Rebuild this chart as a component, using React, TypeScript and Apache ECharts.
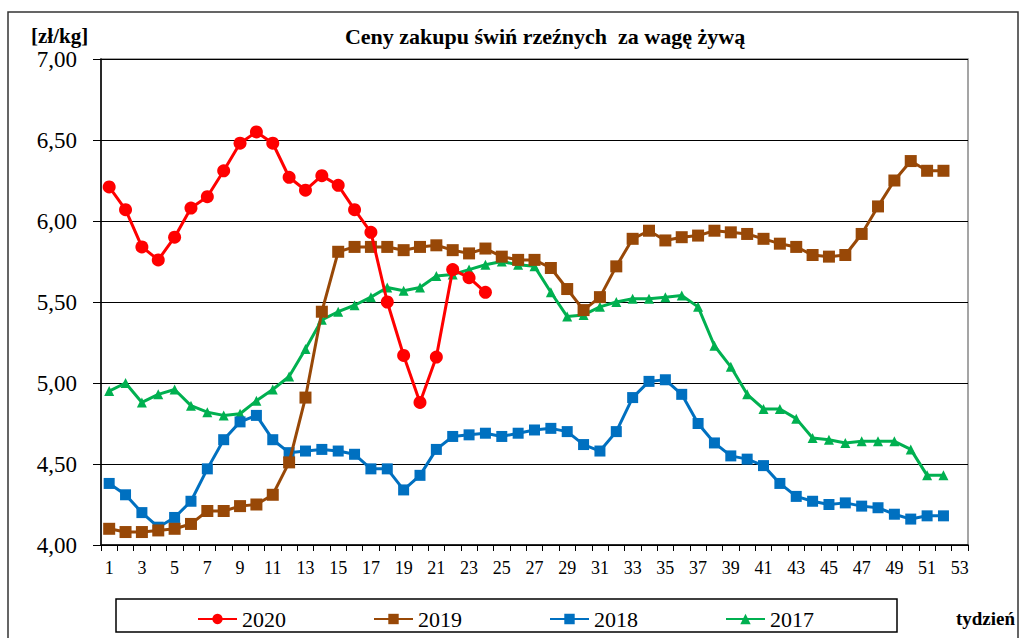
import React, { useEffect, useRef } from "react";
import * as echarts from "echarts";

const weeks: string[] = Array.from({ length: 53 }, (_, i) => String(i + 1));

const y2020: number[] = [6.21, 6.07, 5.84, 5.76, 5.9, 6.08, 6.15, 6.31, 6.48, 6.55, 6.48, 6.27, 6.19, 6.28, 6.22, 6.07, 5.93, 5.5, 5.17, 4.88, 5.16, 5.7, 5.65, 5.56];
const y2019: number[] = [4.1, 4.08, 4.08, 4.09, 4.1, 4.13, 4.21, 4.21, 4.24, 4.25, 4.31, 4.51, 4.91, 5.44, 5.81, 5.84, 5.84, 5.84, 5.82, 5.84, 5.85, 5.82, 5.8, 5.83, 5.78, 5.76, 5.76, 5.71, 5.58, 5.45, 5.53, 5.72, 5.89, 5.94, 5.88, 5.9, 5.91, 5.94, 5.93, 5.92, 5.89, 5.86, 5.84, 5.79, 5.78, 5.79, 5.92, 6.09, 6.25, 6.37, 6.31, 6.31];
const y2018: number[] = [4.38, 4.31, 4.2, 4.11, 4.17, 4.27, 4.47, 4.65, 4.76, 4.8, 4.65, 4.57, 4.58, 4.59, 4.58, 4.56, 4.47, 4.47, 4.34, 4.43, 4.59, 4.67, 4.68, 4.69, 4.67, 4.69, 4.71, 4.72, 4.7, 4.62, 4.58, 4.7, 4.91, 5.01, 5.02, 4.93, 4.75, 4.63, 4.55, 4.53, 4.49, 4.38, 4.3, 4.27, 4.25, 4.26, 4.24, 4.23, 4.19, 4.16, 4.18, 4.18];
const y2017: number[] = [4.95, 5.0, 4.88, 4.93, 4.96, 4.86, 4.82, 4.8, 4.81, 4.89, 4.96, 5.04, 5.21, 5.39, 5.44, 5.48, 5.53, 5.59, 5.57, 5.59, 5.66, 5.67, 5.7, 5.73, 5.75, 5.73, 5.72, 5.56, 5.41, 5.42, 5.47, 5.5, 5.52, 5.52, 5.53, 5.54, 5.47, 5.23, 5.1, 4.93, 4.84, 4.84, 4.78, 4.66, 4.65, 4.63, 4.64, 4.64, 4.64, 4.59, 4.43, 4.43];

const yMin = 4;
const yMax = 7;
const yStep = 0.5;

const FONT = "Liberation Serif";

export default function App() {
  const ref = useRef<HTMLDivElement>(null);
  useEffect(() => {
    if (!ref.current) return;
    const chart = echarts.init(ref.current, null, { renderer: "svg" });
    const mk = (name: string, data: number[], color: string, symbol: string, size: number, z: number) => ({
      name,
      type: "line",
      data,
      symbol,
      symbolSize: size,
      showAllSymbol: true,
      z,
      lineStyle: { color, width: 3 },
      itemStyle: { color },
    });
    chart.setOption({
      animation: false,
      backgroundColor: "#fff",
      textStyle: { fontFamily: FONT },
      grid: {
        left: 101,
        right: 55,
        top: 59,
        bottom: 93,
        show: true,
        borderColor: "#888",
        borderWidth: 1.5,
      },
      legend: {
        data: ["2020", "2019", "2018", "2017"],
        left: 192,
        top: 603,
        itemWidth: 39,
        itemHeight: 13,
        itemGap: 87,
        textStyle: { fontFamily: FONT, fontSize: 22, color: "#000" },
      },
      xAxis: {
        type: "category",
        data: weeks,
        boundaryGap: true,
        axisLine: { lineStyle: { color: "#000", width: 1.5 } },
        axisTick: { show: true, interval: 0, length: 6, lineStyle: { color: "#000" } },
        axisLabel: { interval: 1, fontFamily: FONT, fontSize: 18, color: "#000", margin: 14 },
        splitLine: { show: false },
      },
      yAxis: {
        type: "value",
        min: yMin,
        max: yMax,
        interval: yStep,
        axisLine: { show: true, lineStyle: { color: "#000", width: 1.5 } },
        axisTick: { show: true, length: 8, lineStyle: { color: "#000" } },
        axisLabel: {
          fontFamily: FONT,
          fontSize: 23,
          color: "#000",
          margin: 24,
          formatter: (v: number) => v.toFixed(2).replace(".", ","),
        },
        splitLine: { show: true, lineStyle: { color: "#000", width: 1.2 } },
      },
      graphic: [
        {
          type: "rect",
          shape: { x: 8, y: 12, width: 1010, height: 660 },
          style: { fill: "none", stroke: "#333", lineWidth: 1.5 },
          silent: true,
          z: -1,
        },
        {
          type: "rect",
          shape: { x: 116, y: 599, width: 781, height: 33 },
          style: { fill: "none", stroke: "#000", lineWidth: 1.5 },
          silent: true,
        },
        {
          type: "text",
          x: 31,
          y: 36,
          style: { text: "[zł/kg]", fontFamily: FONT, fontSize: 21, fontWeight: "bold", fill: "#000", textVerticalAlign: "middle" },
        },
        {
          type: "text",
          x: 545,
          y: 36,
          style: {
            text: "Ceny zakupu świń rzeźnych  za wagę żywą",
            fontFamily: FONT,
            fontSize: 22,
            fontWeight: "bold",
            fill: "#000",
            textAlign: "center",
            textVerticalAlign: "middle",
          },
        },
        {
          type: "text",
          x: 1015,
          y: 618,
          style: {
            text: "tydzień",
            fontFamily: FONT,
            fontSize: 19,
            fontWeight: "bold",
            fill: "#000",
            textAlign: "right",
            textVerticalAlign: "middle",
          },
        },
      ],
      series: [
        mk("2017", y2017, "#00B050", "triangle", 10, 2),
        mk("2018", y2018, "#0070C0", "rect", 11, 3),
        mk("2019", y2019, "#984807", "rect", 12, 4),
        mk("2020", y2020, "#FF0000", "circle", 13, 5),
      ],
    });
    return () => chart.dispose();
  }, []);
  return (
    <div
      ref={ref}
      style={{ position: "absolute", left: 0, top: 0, width: 1023, height: 638 }}
    />
  );
}
